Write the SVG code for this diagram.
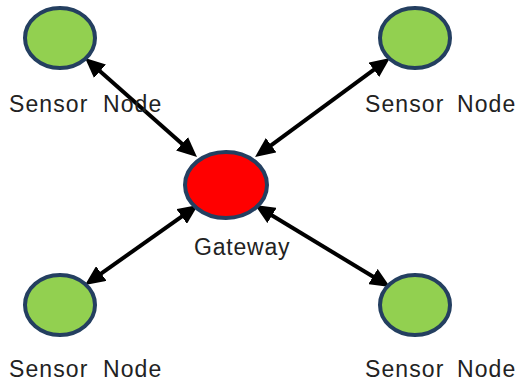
<svg xmlns="http://www.w3.org/2000/svg" width="520" height="385" viewBox="0 0 520 385">
  <style>
    .sensor { fill: #92D050; stroke: #243F60; stroke-width: 4; }
    .gateway { fill: #FF0000; stroke: #243F60; stroke-width: 4; }
    .label { font-family: "Liberation Sans", Arial, sans-serif; font-size: 23px; fill: #222; letter-spacing: 1.1px; }
    .conn { stroke: #000; stroke-width: 4; fill: none; marker-start: url(#ah); marker-end: url(#ah); }
  </style>
  <defs>
    <marker id="ah" markerUnits="userSpaceOnUse" markerWidth="20" markerHeight="18" refX="12" refY="9" orient="auto-start-reverse" viewBox="0 0 20 18">
      <path d="M0,0 L20,9 L0,18 z" fill="#000"/>
    </marker>
  </defs>
  <rect width="520" height="385" fill="#fff"/>
  <g id="connectors">
    <line class="conn" x1="91" y1="63.3" x2="191" y2="151.7"/>
    <line class="conn" x1="383.5" y1="62.7" x2="261.5" y2="152.3"/>
    <line class="conn" x1="91.5" y1="280.4" x2="191.5" y2="209.6"/>
    <line class="conn" x1="383.2" y1="282.8" x2="261.8" y2="209.2"/>
  </g>
  <g id="gateway">
    <ellipse class="gateway" cx="226" cy="185" rx="41" ry="33"/>
    <text class="label" x="194" y="255" style="letter-spacing:0.8px">Gateway</text>
  </g>
  <g id="sensor-tl">
    <ellipse class="sensor" cx="60" cy="38" rx="35" ry="30"/>
    <text class="label" x="9" y="112">Sensor<tspan x="103">Node</tspan></text>
  </g>
  <g id="sensor-tr">
    <ellipse class="sensor" cx="415" cy="38" rx="35" ry="30"/>
    <text class="label" x="365" y="112">Sensor<tspan x="457">Node</tspan></text>
  </g>
  <g id="sensor-bl">
    <ellipse class="sensor" cx="60" cy="305" rx="35" ry="30"/>
    <text class="label" x="9" y="377">Sensor<tspan x="103">Node</tspan></text>
  </g>
  <g id="sensor-br">
    <ellipse class="sensor" cx="415" cy="305" rx="35" ry="30"/>
    <text class="label" x="365" y="377">Sensor<tspan x="457">Node</tspan></text>
  </g>
</svg>
